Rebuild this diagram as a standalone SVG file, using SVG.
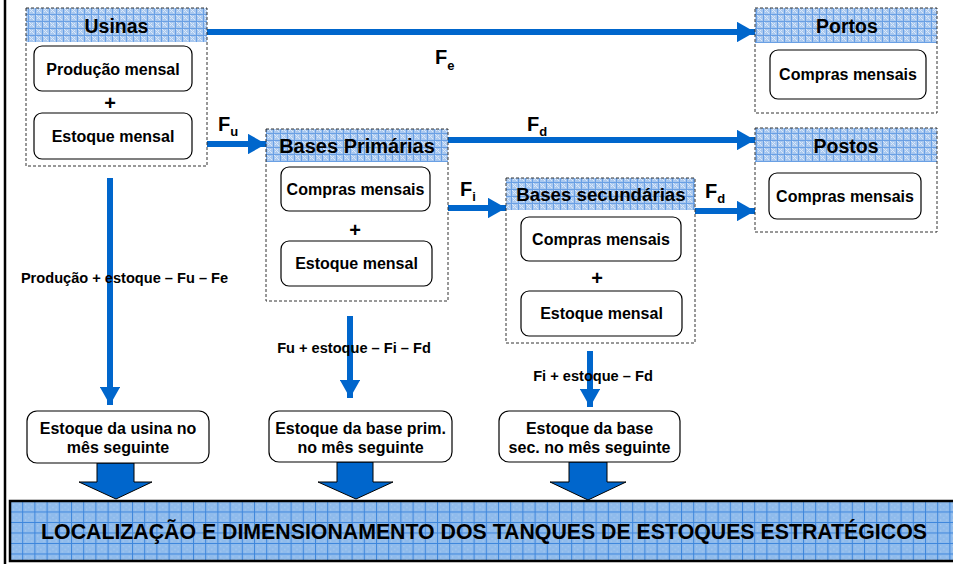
<svg xmlns="http://www.w3.org/2000/svg" width="953" height="564" viewBox="0 0 953 564">
<defs>
<pattern id="hdr" width="7" height="7" patternUnits="userSpaceOnUse">
<rect width="7" height="7" fill="#a9c8ef"/>
<path d="M2 2h1v1H2zM4 4h1v1H4zM2 4h1v1H2zM4 2h1v1H4zM3 3h1v1H3zM5 5h1v1H5zM1 1h1v1H1z" fill="#dbe8f8"/>
<path d="M0 0.5H7M0.5 0V7" stroke="#6aa0e4" stroke-width="1"/>
</pattern>
<pattern id="ban" width="12.2" height="10.5" patternUnits="userSpaceOnUse" x="10" y="501">
<rect width="12.2" height="10.5" fill="#8fbbec"/>
<path d="M3 3h1v1H3zM6 6h1v1H6zM9 3h1v1H9zM3 8h1v1H3zM9 8h1v1H9z" fill="#b9d4f3"/>
<path d="M0 0.5H12.2M0.5 0V10.5" stroke="#3d86dc" stroke-width="1"/>
</pattern>
<marker id="ah" viewBox="0 0 3 3.4" refX="3" refY="1.7" markerWidth="3" markerHeight="3.4" orient="auto" markerUnits="strokeWidth">
<path d="M0 0L3 1.7L0 3.4z" fill="#0066cc"/>
</marker>
<style>
.dash{fill:none;stroke:#333;stroke-width:1;stroke-dasharray:3 2}
.band{fill:url(#hdr)}
.rb{fill:#fff;stroke:#000;stroke-width:1.2}
.t{font-family:"Liberation Sans",Arial,sans-serif;font-weight:bold;fill:#000;text-anchor:middle}
.h{font-size:19.5px}
.b{font-size:16px}
.p{font-size:20px}
.l{font-size:14.6px}
.f{font-size:20px;text-anchor:start}
.s{font-size:13px}
.ln{stroke:#0066cc;stroke-width:6;fill:none;marker-end:url(#ah)}
.blk{fill:#0066cc;stroke:#000;stroke-width:1}
</style>
</defs>
<rect width="953" height="564" fill="#fff"/>
<line x1="5" y1="0" x2="5" y2="564" stroke="#000" stroke-width="2.5"/>

<g id="connectors">
<line class="ln" x1="207" y1="32" x2="755" y2="32"/>
<line class="ln" x1="207" y1="144" x2="266" y2="144"/>
<line class="ln" x1="448" y1="140" x2="755" y2="140"/>
<line class="ln" x1="448" y1="208" x2="506" y2="208"/>
<line class="ln" x1="695" y1="211" x2="755" y2="211"/>
<line class="ln" x1="110" y1="178" x2="110" y2="405"/>
<line class="ln" x1="350" y1="316" x2="350" y2="398"/>
<line class="ln" x1="590" y1="351" x2="590" y2="407"/>
<text class="t f" x="435" y="64">F<tspan class="s" dy="6">e</tspan></text>
<text class="t f" x="218" y="131">F<tspan class="s" dy="5">u</tspan></text>
<text class="t f" x="527" y="131">F<tspan class="s" dy="5">d</tspan></text>
<text class="t f" x="460" y="196">F<tspan class="s" dy="5">i</tspan></text>
<text class="t f" x="705" y="198">F<tspan class="s" dy="5">d</tspan></text>
<text class="t l" x="124.5" y="283">Produção + estoque – Fu – Fe</text>
<text class="t l" x="354" y="353">Fu + estoque – Fi – Fd</text>
<text class="t l" x="593" y="381">Fi + estoque – Fd</text>
<path class="blk" d="M97 463H134V482H152L116 499L79 482H97Z"/>
<path class="blk" d="M337 462H373V482H393L356 499L318 482H337Z"/>
<path class="blk" d="M569 462H607V482H626L588 500L550 482H569Z"/>
</g>

<g id="usinas">
<rect class="band" x="26" y="8" width="181" height="34"/>
<rect class="dash" x="26" y="8" width="181" height="158"/>
<text class="t h" x="116.5" y="33">Usinas</text>
<rect class="rb" x="34" y="46" width="158" height="45" rx="8"/>
<text class="t b" x="113" y="74.5">Produção mensal</text>
<text class="t p" x="110" y="110">+</text>
<rect class="rb" x="34" y="113" width="158" height="46" rx="8"/>
<text class="t b" x="113" y="141.5">Estoque mensal</text>
</g>

<g id="portos">
<rect class="band" x="755" y="8" width="182" height="35"/>
<rect class="dash" x="755" y="8" width="182" height="105"/>
<text class="t h" x="847" y="33">Portos</text>
<rect class="rb" x="770" y="50" width="156" height="49" rx="8"/>
<text class="t b" x="848" y="80">Compras mensais</text>
</g>

<g id="postos">
<rect class="band" x="755" y="128" width="182" height="34"/>
<rect class="dash" x="755" y="128" width="182" height="104"/>
<text class="t h" x="846" y="153">Postos</text>
<rect class="rb" x="769" y="173" width="152" height="46" rx="8"/>
<text class="t b" x="845" y="201.5">Compras mensais</text>
</g>

<g id="bases-primarias">
<rect class="band" x="266" y="129" width="182" height="33"/>
<rect class="dash" x="266" y="129" width="182" height="172"/>
<text class="t h" x="357" y="153" style="font-size:20px">Bases Primárias</text>
<rect class="rb" x="281" y="167" width="149" height="44" rx="8"/>
<text class="t b" x="355.5" y="194.5">Compras mensais</text>
<text class="t p" x="355" y="237">+</text>
<rect class="rb" x="281" y="241" width="151" height="45" rx="8"/>
<text class="t b" x="356.5" y="269">Estoque mensal</text>
</g>

<g id="bases-secundarias">
<rect class="band" x="506" y="178" width="189" height="32"/>
<rect class="dash" x="506" y="178" width="189" height="165"/>
<text class="t h" x="601" y="201" style="font-size:18.7px">Bases secundárias</text>
<rect class="rb" x="521" y="217" width="160" height="44" rx="8"/>
<text class="t b" x="601" y="244.5">Compras mensais</text>
<text class="t p" x="597" y="285">+</text>
<rect class="rb" x="521" y="291" width="161" height="45" rx="8"/>
<text class="t b" x="601.5" y="319">Estoque mensal</text>
</g>

<g id="estoque-usina">
<rect class="rb" x="27" y="411" width="182" height="52" rx="10"/>
<text class="t b" x="118" y="434">Estoque da usina no</text>
<text class="t b" x="118" y="453">mês seguinte</text>
</g>

<g id="estoque-base-prim">
<rect class="rb" x="269" y="411" width="183" height="51" rx="10"/>
<text class="t b" x="360.5" y="434">Estoque da base prim.</text>
<text class="t b" x="360.5" y="453">no mês seguinte</text>
</g>

<g id="estoque-base-sec">
<rect class="rb" x="499" y="411" width="181" height="51" rx="10"/>
<text class="t b" x="589.5" y="434">Estoque da base</text>
<text class="t b" x="589.5" y="453">sec. no mês seguinte</text>
</g>

<g id="localizacao">
<rect x="10" y="501" width="960" height="60" fill="url(#ban)" stroke="#000" stroke-width="2.5"/>
<text class="t" x="484" y="539" style="font-size:21.3px">LOCALIZAÇÃO E DIMENSIONAMENTO DOS TANQUES DE ESTOQUES ESTRATÉGICOS</text>
</g>
</svg>
